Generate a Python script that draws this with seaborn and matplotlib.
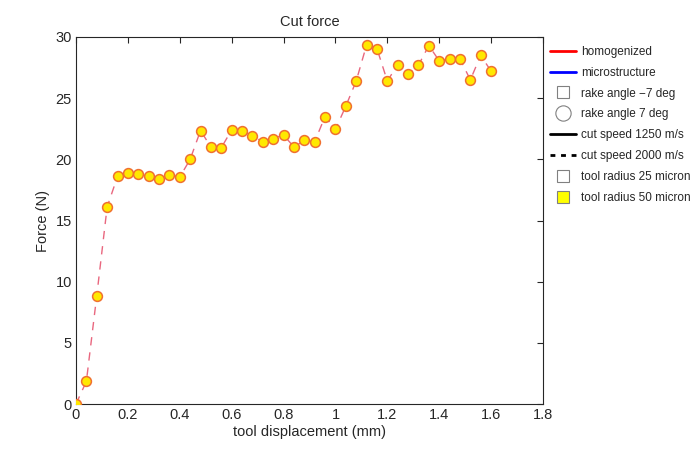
import matplotlib
matplotlib.use("Agg")
import matplotlib.pyplot as plt
from matplotlib.lines import Line2D
import seaborn as sns
import pandas as pd

displacement = [0.00, 0.04, 0.08, 0.12, 0.16, 0.20, 0.24, 0.28, 0.32, 0.36,
                0.40, 0.44, 0.48, 0.52, 0.56, 0.60, 0.64, 0.68, 0.72, 0.76,
                0.80, 0.84, 0.88, 0.92, 0.96, 1.00, 1.04, 1.08, 1.12, 1.16,
                1.20, 1.24, 1.28, 1.32, 1.36, 1.40, 1.44, 1.48, 1.52, 1.56, 1.60]
force = [0.0, 1.85, 8.85, 16.1, 18.6, 18.9, 18.8, 18.6, 18.4, 18.75,
         18.55, 20.0, 22.35, 21.0, 20.95, 22.4, 22.35, 21.9, 21.45, 21.7,
         22.0, 21.0, 21.55, 21.45, 23.5, 22.45, 24.35, 26.4, 29.35, 29.05,
         26.4, 27.75, 27.0, 27.7, 29.3, 28.05, 28.2, 28.2, 26.5, 28.5, 27.2]

legend_labels = ["homogenized", "microstructure", "rake angle \u22127 deg",
                 "rake angle 7 deg", "cut speed 1250 m/s", "cut speed 2000 m/s",
                 "tool radius 25 micron", "tool radius 50 micron"]

df = pd.DataFrame({"x": displacement, "y": force})

sns.set_style("white")
plt.rcParams["font.family"] = ["Liberation Sans", "DejaVu Sans"]

fig = plt.figure(figsize=(6.99, 4.53), dpi=100)
ax = fig.add_axes([76/699, 1-404/453, (543-76)/699, (404-37)/453])

sns.lineplot(data=df, x="x", y="y", ax=ax, color="#e9677f", linestyle=(0, (6, 5)),
             linewidth=1.0, zorder=2)
sns.scatterplot(data=df, x="x", y="y", ax=ax, s=50, color="#ffe800",
                edgecolor="#f07030", linewidth=1.1, zorder=3)

ax.set_xlim(0, 1.8)
ax.set_ylim(0, 30)
ax.set_xticks([0, 0.2, 0.4, 0.6, 0.8, 1, 1.2, 1.4, 1.6, 1.8])
ax.set_xticklabels(["0", "0.2", "0.4", "0.6", "0.8", "1", "1.2", "1.4", "1.6", "1.8"])
ax.set_yticks([0, 5, 10, 15, 20, 25, 30])
ax.tick_params(direction="in", length=4, width=0.8, top=True, right=True,
               labelsize=10.5, colors="#262626", pad=3)
for sp in ax.spines.values():
    sp.set_visible(True)
    sp.set_color("#262626")
    sp.set_linewidth(0.8)
ax.set_xlabel("tool displacement (mm)", fontsize=10.5, color="#262626", labelpad=2)
ax.set_ylabel("Force (N)", fontsize=10.5, color="#262626", labelpad=4)
ax.set_title("Cut force", fontsize=10.5, color="#262626", pad=8)

handles = [
    Line2D([], [], color="red", lw=2),
    Line2D([], [], color="blue", lw=2),
    Line2D([], [], color="none", marker="s", markersize=9, markerfacecolor="white",
           markeredgecolor="#808080", markeredgewidth=0.8),
    Line2D([], [], color="none", marker="o", markersize=11, markerfacecolor="white",
           markeredgecolor="#808080", markeredgewidth=0.8),
    Line2D([], [], color="black", lw=2),
    Line2D([], [], color="black", lw=2, linestyle=(0, (1.75, 2.05))),
    Line2D([], [], color="none", marker="s", markersize=9, markerfacecolor="white",
           markeredgecolor="#808080", markeredgewidth=0.8),
    Line2D([], [], color="none", marker="s", markersize=9, markerfacecolor="#ffff00",
           markeredgecolor="#808080", markeredgewidth=0.8),
]
ax.legend(handles, legend_labels, loc="upper left", bbox_to_anchor=(1.0, 0.995),
          frameon=False, fontsize=8.5, handlelength=2.2, handletextpad=0.45,
          labelspacing=0.75, borderaxespad=0.2, labelcolor="#262626")

fig.savefig("out.png", dpi=100)
